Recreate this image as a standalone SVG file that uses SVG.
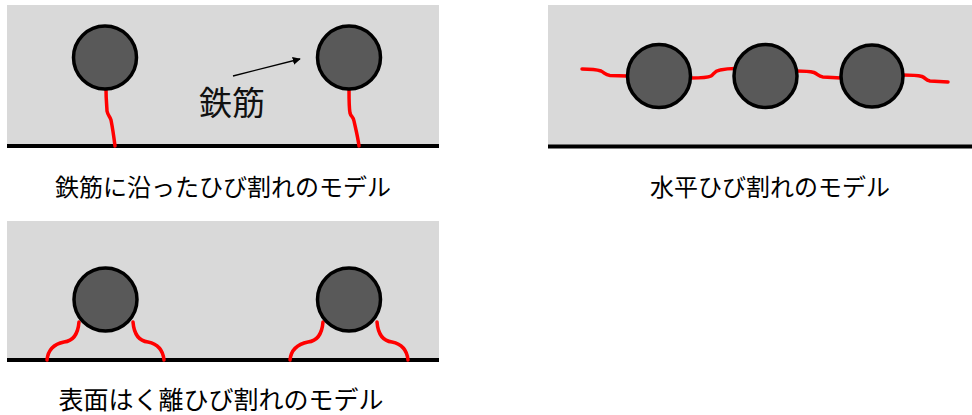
<svg xmlns="http://www.w3.org/2000/svg" width="972" height="415" viewBox="0 0 972 415">
  <defs>
    <style>
      .slab { fill: #d9d9d9; }
      .base { stroke: #000; stroke-width: 4; fill: none; }
      .bar { fill: #595959; stroke: #000; stroke-width: 3.5; }
      .crack { fill: none; stroke: #ff0000; stroke-width: 3.5; stroke-linecap: round; stroke-linejoin: round; }
      .cap { font-family: "Noto Sans CJK JP", "Noto Sans", sans-serif; font-size: 24px; fill: #000; text-anchor: middle; }
      .lbl { font-family: "Noto Sans CJK JP", "Noto Sans", sans-serif; font-size: 33px; fill: #111; }
    </style>
    <marker id="head" viewBox="0 0 10 10" refX="9" refY="5" markerWidth="8" markerHeight="8" markerUnits="userSpaceOnUse" orient="auto">
      <path d="M0,0 L10,5 L0,10 z" fill="#000"/>
    </marker>
  </defs>

  <!-- Model 1: cracks along the reinforcement -->
  <g id="panel-along">
    <rect class="slab" x="7" y="5" width="432" height="141"/>
    <line class="base" x1="7" y1="146" x2="439" y2="146"/>
    <path class="crack" d="M106,89 C106,100 107,108 107,111 C108,116 110,116 111,120 C113,130 114,138 115,146"/>
    <path class="crack" d="M349,89 C349,100 349,108 350,113 C351,117 353,116 354,121 C356,130 358,138 359,146"/>
    <circle class="bar" cx="105" cy="57.5" r="31.5"/>
    <circle class="bar" cx="349" cy="57.5" r="31.5"/>
  </g>

  <g id="rebar-label">
    <text class="lbl" x="199" y="115">鉄筋</text>
  </g>

  <g id="connectors">
    <line x1="233" y1="76" x2="300" y2="59" stroke="#000" stroke-width="1.3" marker-end="url(#head)"/>
  </g>

  <!-- Model 2: horizontal crack -->
  <g id="panel-horizontal">
    <rect class="slab" x="548" y="5" width="424" height="141"/>
    <line class="base" x1="548" y1="146.5" x2="972" y2="146.5"/>
    <path class="crack" d="M582,69 C592,69 598,70 601,71 C605,73 605,75 610,75.5 L627,76"/>
    <path class="crack" d="M691,78 C700,78 708,77.5 711,76 C714,74 714,71 720,70 C725,69 730,68.5 735,68.5"/>
    <path class="crack" d="M797,71 C805,71 810,71.5 814,72.5 C818,74 818,76.5 823,77 L841,78"/>
    <path class="crack" d="M903,75 C912,75 918,75.5 922,76.5 C926,78 925,80 930,81 L948,82"/>
    <circle class="bar" cx="659" cy="76" r="31.5"/>
    <circle class="bar" cx="765.5" cy="76" r="31.5"/>
    <circle class="bar" cx="872" cy="76" r="31"/>
  </g>

  <!-- Model 3: surface spalling cracks -->
  <g id="panel-spalling">
    <rect class="slab" x="7" y="221" width="432" height="139"/>
    <line class="base" x1="7" y1="360" x2="439" y2="360"/>
    <path class="crack" d="M79,322 C78,334 73,341 64,342 C54,344 48,350 47,360"/>
    <path class="crack" d="M133,322 C134,334 139,341 148,342 C158,344 163,350 164,360"/>
    <path class="crack" d="M323,322 C322,334 317,341 308,342 C298,344 291,350 290,360"/>
    <path class="crack" d="M377,322 C378,334 383,341 392,342 C402,344 407,350 408,360"/>
    <circle class="bar" cx="105.5" cy="299.5" r="31.5"/>
    <circle class="bar" cx="349" cy="299.5" r="31.5"/>
  </g>

  <g id="captions">
    <text class="cap" x="223" y="196">鉄筋に沿ったひび割れのモデル</text>
    <text class="cap" x="770" y="196">水平ひび割れのモデル</text>
    <text class="cap" x="221" y="409" style="font-size:25px">表面はく離ひび割れのモデル</text>
  </g>
</svg>
